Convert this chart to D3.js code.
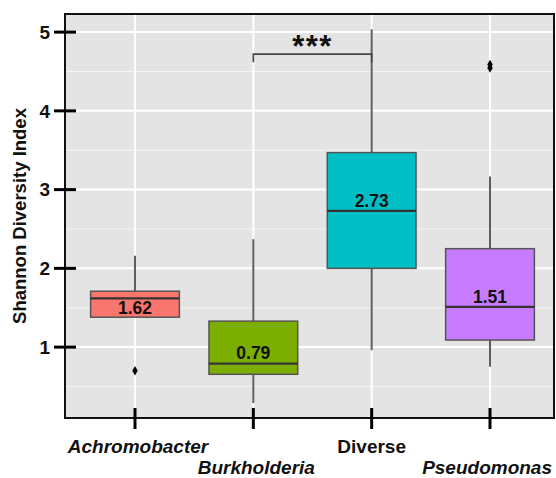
<!DOCTYPE html>
<html>
<head>
<meta charset="utf-8">
<script src="https://cdn.jsdelivr.net/npm/d3@7"></script>
<style>
  html, body { margin: 0; padding: 0; background: #ffffff; }
  svg { display: block; }
  text { font-family: "Liberation Sans", Arial, sans-serif; }
</style>
</head>
<body>
<svg id="chart" width="556" height="478"></svg>
<script>
// ---- data ----
const categories = ["Achromobacter", "Burkholderia", "Diverse", "Pseudomonas"];
const italicCats = [true, true, false, true];
const q1 = [1.38, 0.655, 2.00, 1.09];
const medians = [1.62, 0.79, 2.73, 1.51];
const q3 = [1.71, 1.33, 3.47, 2.25];
const whiskerLow = [1.38, 0.29, 0.96, 0.75];
const whiskerHigh = [2.16, 2.37, 5.035, 3.165];
const outliers = [[0.70], [], [], [4.545, 4.59]];
const labelValues = [1.42, 0.85, 2.78, 1.555];
const boxColors = ["#F8766D", "#7CAE00", "#00BFC4", "#C77CFF"];
const yTicks = [1, 2, 3, 4, 5];
const yMinor = [0.5, 1.5, 2.5, 3.5, 4.5];
const sigPair = [1, 2];      // Burkholderia vs Diverse
const sigValue = 4.72;
const sigLabel = "***";

// ---- layout ----
const W = 556;
const svg = d3.select("#chart");
const panel = { left: 65, right: 554, top: 14, bottom: 418 };

const x = d3.scaleLinear().domain([0, 3]).range([135, 490]);
const y = d3.scaleLinear().domain([0.1, 5.23]).range([panel.bottom, panel.top]);
const unit = x(1) - x(0);
const boxW = unit * 0.75;

// panel background
svg.append("rect")
  .attr("x", panel.left).attr("y", panel.top)
  .attr("width", panel.right - panel.left).attr("height", panel.bottom - panel.top)
  .attr("fill", "#E4E4E4");

const grid = svg.append("g");
grid.selectAll(".minor").data(yMinor).enter().append("line")
  .attr("x1", panel.left).attr("x2", panel.right)
  .attr("y1", d => y(d)).attr("y2", d => y(d))
  .attr("stroke", "#F4F4F4").attr("stroke-width", 1);
grid.selectAll(".major").data(yTicks).enter().append("line")
  .attr("x1", panel.left).attr("x2", panel.right)
  .attr("y1", d => y(d)).attr("y2", d => y(d))
  .attr("stroke", "#FFFFFF").attr("stroke-width", 2);
grid.selectAll(".vmajor").data(categories).enter().append("line")
  .attr("x1", (d, i) => x(i)).attr("x2", (d, i) => x(i))
  .attr("y1", panel.top).attr("y2", panel.bottom)
  .attr("stroke", "#FFFFFF").attr("stroke-width", 2);

// boxes
const boxes = svg.append("g").selectAll("g").data(categories).enter().append("g");
boxes.append("line")
  .attr("x1", (d, i) => x(i)).attr("x2", (d, i) => x(i))
  .attr("y1", (d, i) => y(whiskerHigh[i])).attr("y2", (d, i) => y(q3[i]))
  .attr("stroke", "#5E5E5E").attr("stroke-width", 2);
boxes.append("line")
  .attr("x1", (d, i) => x(i)).attr("x2", (d, i) => x(i))
  .attr("y1", (d, i) => y(q1[i])).attr("y2", (d, i) => y(whiskerLow[i]))
  .attr("stroke", "#5E5E5E").attr("stroke-width", 2);
boxes.append("rect")
  .attr("x", (d, i) => x(i) - boxW / 2).attr("width", boxW)
  .attr("y", (d, i) => y(q3[i])).attr("height", (d, i) => y(q1[i]) - y(q3[i]))
  .attr("fill", (d, i) => boxColors[i])
  .attr("stroke", "#555555").attr("stroke-width", 1.5);
boxes.append("line")
  .attr("x1", (d, i) => x(i) - boxW / 2).attr("x2", (d, i) => x(i) + boxW / 2)
  .attr("y1", (d, i) => y(medians[i])).attr("y2", (d, i) => y(medians[i]))
  .attr("stroke", "#333333").attr("stroke-width", 2.2);
boxes.each(function(d, i) {
  d3.select(this).selectAll("path.out").data(outliers[i]).enter().append("path")
    .attr("class", "out")
    .attr("transform", v => `translate(${x(i)},${y(v)})`)
    .attr("d", d3.symbol().type(d3.symbolDiamond).size(26))
    .attr("fill", "#000000");
});
boxes.append("text")
  .attr("x", (d, i) => x(i)).attr("y", (d, i) => y(labelValues[i]))
  .attr("text-anchor", "middle")
  .attr("font-size", 17.5).attr("font-weight", "bold").attr("fill", "#111")
  .text((d, i) => d3.format(".2f")(medians[i]));

// significance bracket
const sy = y(sigValue);
const sig = svg.append("g");
sig.append("path")
  .attr("d", `M${x(sigPair[0])},${sy + 8}V${sy}H${x(sigPair[1])}V${sy + 8}`)
  .attr("fill", "none").attr("stroke", "#444").attr("stroke-width", 1.6);
sig.append("text")
  .attr("x", (x(sigPair[0]) + x(sigPair[1])) / 2).attr("y", sy + 3)
  .attr("text-anchor", "middle")
  .attr("font-size", 31).attr("font-weight", "bold").attr("letter-spacing", 1.5)
  .attr("fill", "#111")
  .text(sigLabel);

// panel border
svg.append("rect")
  .attr("x", panel.left).attr("y", panel.top)
  .attr("width", panel.right - panel.left).attr("height", panel.bottom - panel.top)
  .attr("fill", "none").attr("stroke", "#111").attr("stroke-width", 2);

// y axis
const yAxis = svg.append("g");
yAxis.selectAll("line").data(yTicks).enter().append("line")
  .attr("x1", panel.left - 11).attr("x2", panel.left + 11)
  .attr("y1", d => y(d)).attr("y2", d => y(d))
  .attr("stroke", "#000").attr("stroke-width", 3);
yAxis.selectAll("text").data(yTicks).enter().append("text")
  .attr("x", 50).attr("y", d => y(d)).attr("dy", "0.36em")
  .attr("text-anchor", "end")
  .attr("font-size", 19).attr("font-weight", "bold").attr("fill", "#111")
  .text(d => d);
svg.append("text")
  .attr("transform", "translate(26,216) rotate(-90)")
  .attr("text-anchor", "middle")
  .attr("font-size", 18.5).attr("font-weight", "bold").attr("fill", "#111")
  .text("Shannon Diversity Index");

// x axis
const xAxis = svg.append("g");
xAxis.selectAll("line").data(categories).enter().append("line")
  .attr("x1", (d, i) => x(i)).attr("x2", (d, i) => x(i))
  .attr("y1", panel.bottom - 10).attr("y2", panel.bottom + 11)
  .attr("stroke", "#000").attr("stroke-width", 3);
xAxis.selectAll("text").data(categories).enter().append("text")
  .attr("x", (d, i) => x(i) + (italicCats[i] ? 3 : 0))
  .attr("y", (d, i) => i % 2 === 0 ? 452.5 : 473.5)
  .attr("text-anchor", "middle")
  .attr("font-size", 19).attr("font-weight", "bold")
  .attr("font-style", (d, i) => italicCats[i] ? "italic" : "normal")
  .attr("fill", "#111")
  .text(d => d)
  .each(function() {
    // keep labels inside the picture
    const bb = this.getBBox();
    const overflow = bb.x + bb.width - (W - 4);
    if (overflow > 0) d3.select(this).attr("x", +d3.select(this).attr("x") - overflow);
  });
</script>
</body>
</html>
